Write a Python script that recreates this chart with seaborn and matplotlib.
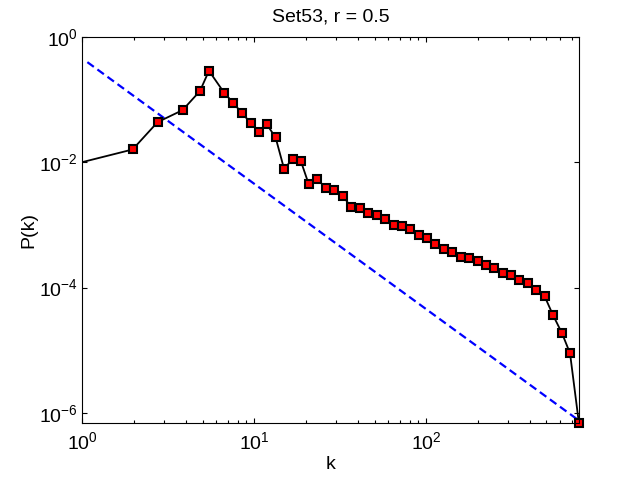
import numpy as np
import pandas as pd
import matplotlib
matplotlib.use("Agg")
import matplotlib.pyplot as plt
import seaborn as sns
from matplotlib.ticker import LogLocator, NullFormatter, FixedLocator

# ---- data ----
k = [0.5, 1.96, 2.74, 3.83, 4.83, 5.45, 6.69, 7.55, 8.45, 9.53, 10.6, 11.8, 13.3,
     14.9, 16.7, 18.6, 20.7, 23.2, 26.1, 29.2, 32.7, 36.6, 41.0, 45.8, 51.5, 57.5,
     64.9, 72.2, 80.4, 90.3, 100.5, 112.8, 126.2, 141, 158.5, 177, 199, 222, 248,
     278, 310, 347, 390, 434, 487, 545, 615, 685, 772]
P = [6.2e-3, 1.59e-2, 4.34e-2, 6.75e-2, 0.136, 0.286, 0.127, 8.8e-2, 6.1e-2,
     4.23e-2, 3.04e-2, 4.03e-2, 2.47e-2, 7.8e-3, 1.12e-2, 1.06e-2, 4.49e-3,
     5.33e-3, 3.87e-3, 3.56e-3, 2.88e-3, 1.92e-3, 1.85e-3, 1.54e-3, 1.42e-3,
     1.24e-3, 9.93e-4, 9.46e-4, 8.57e-4, 6.87e-4, 6.15e-4, 4.93e-4, 4.17e-4,
     3.64e-4, 3.06e-4, 2.95e-4, 2.68e-4, 2.28e-4, 2.07e-4, 1.70e-4, 1.58e-4,
     1.31e-4, 1.17e-4, 9.08e-5, 7.29e-5, 3.65e-5, 1.87e-5, 8.95e-6, 6.82e-7]

# power-law reference line P = C * k^-gamma
fit_k = [1.07, 772]
fit_C = 0.45
fit_gamma = 2.0

title = "Set53, r = 0.5"
xlabel = "k"
ylabel = "P(k)"
yticks = [1e-6, 1e-4, 1e-2, 1e0]

# ---- style ----
sns.set_style("ticks")
plt.rcParams['font.family'] = ['Liberation Sans', 'DejaVu Sans']
plt.rcParams['axes.unicode_minus'] = False
plt.rcParams['mathtext.fontset'] = 'custom'
plt.rcParams['mathtext.rm'] = 'Liberation Sans'
plt.rcParams['text.color'] = 'black'
plt.rcParams['axes.labelcolor'] = 'black'

fig = plt.figure(figsize=(6.4, 4.8), dpi=100)
fig.patch.set_facecolor('white')
ax = fig.add_axes([0.1286, 0.1181, 0.776, 0.8054])
ax.set_facecolor('white')

df = pd.DataFrame({'k': k, 'P': P})
fit_df = pd.DataFrame({'k': fit_k,
                       'P': [fit_C * kk ** (-fit_gamma) for kk in fit_k]})

sns.lineplot(data=fit_df, x='k', y='P', ax=ax, color=(0, 0, 1), lw=1.6,
             linestyle=(0, (3.6, 2.0)), sort=False, estimator=None)
sns.lineplot(data=df, x='k', y='P', ax=ax, color='black', lw=1.3,
             sort=False, estimator=None)

xmin, xmax = 1, k[-1]
ymin, ymax = P[-1], 1
vis = df[(df['k'] >= xmin) & (df['k'] <= xmax)]
sns.lineplot(data=vis, x='k', y='P', ax=ax, color='black', linestyle='',
             marker='s', markersize=6.2, markerfacecolor=(1, 0, 0),
             markeredgecolor='black', markeredgewidth=1.5,
             sort=False, estimator=None)
ax.lines[-1].set_clip_on(False)

ax.set_xscale('log')
ax.set_yscale('log')
ax.set_xlim(xmin, xmax)
ax.set_ylim(ymin, ymax)

ax.yaxis.set_major_locator(FixedLocator(yticks))
ax.yaxis.set_minor_locator(FixedLocator([]))
ax.xaxis.set_major_locator(LogLocator(base=10))
ax.xaxis.set_minor_locator(LogLocator(base=10, subs=np.arange(2, 10)))
ax.xaxis.set_minor_formatter(NullFormatter())

for s in ax.spines.values():
    s.set_visible(True)
    s.set_linewidth(0.8)
    s.set_color('black')

ax.tick_params(which='both', direction='in', top=True, right=True,
               colors='black', labelsize=14, labelcolor='black')
ax.tick_params(which='major', length=3.8, width=0.8, pad=3)
ax.tick_params(which='minor', length=2.2, width=0.8)
ax.tick_params(axis='x', which='major', pad=6)

ax.set_title(title, fontsize=14, pad=11, color='black')
ax.set_xlabel(xlabel, fontsize=14, labelpad=2)
ax.set_ylabel(ylabel, fontsize=14, labelpad=1)

fig.savefig('out.png', dpi=100, facecolor='white')
